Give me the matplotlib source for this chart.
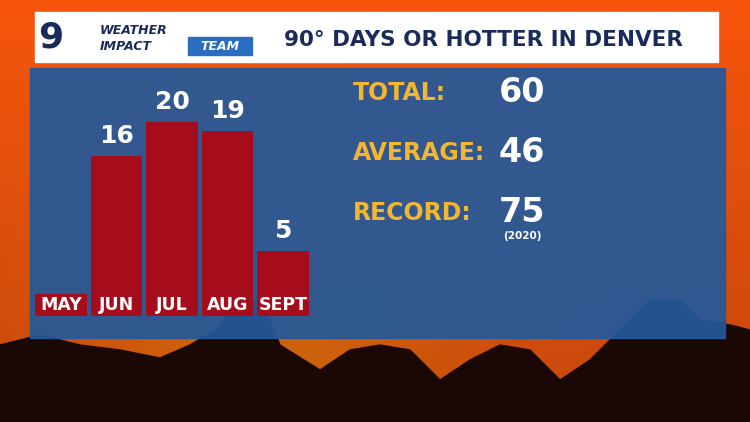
import matplotlib.pyplot as plt
import numpy as np
from matplotlib.patches import Rectangle, Polygon

months = ['MAY', 'JUN', 'JUL', 'AUG', 'SEPT']
days = [0, 16, 20, 19, 5]
stat_names = ['TOTAL:', 'AVERAGE:', 'RECORD:']
stat_values = ['60', '46', '75']

W, H = 750, 422
fig = plt.figure(figsize=(7.5, 4.22), dpi=100)
bg = fig.add_axes([0, 0, 1, 1])
bg.set_xlim(0, W)
bg.set_ylim(H, 0)
bg.axis('off')

# sunset gradient
yy = np.linspace(0, 1, 200)[:, None]
xx = np.linspace(0, 1, 300)[None, :]
r = np.clip(0.97 - 0.2 * yy + 0 * xx, 0, 1)
g = np.clip(0.33 - 0.05 * yy + 0.12 * np.exp(-((xx - 0.35) / 0.25) ** 2) * yy, 0, 1)
b = np.clip(0.05 + 0 * xx + 0 * yy, 0, 1)
bg.imshow(np.dstack([r, g, b]), extent=[0, W, H, 0], aspect='auto', zorder=0)

# mountain silhouette
sil = [(0, 422), (0, 345), (40, 335), (80, 345), (120, 350), (160, 358), (190, 345),
       (215, 330), (240, 300), (262, 300), (280, 345), (320, 370), (350, 350),
       (380, 345), (410, 350), (440, 380), (470, 360), (500, 345), (530, 350),
       (560, 380), (590, 360), (620, 330), (650, 300), (680, 300), (700, 320),
       (730, 325), (750, 330), (750, 422)]
bg.add_patch(Polygon(sil, closed=True, color='#1a0804', zorder=1))

# title bar
bg.add_patch(Rectangle((35, 12), 683, 50, color='white', zorder=2))
bg.text(38, 38, '9', fontsize=26, fontweight='bold', color='#1a2a5a', va='center', zorder=3)
bg.text(100, 30, 'WEATHER', fontsize=9, fontweight='bold', style='italic', color='#1a2a5a', va='center', zorder=3)
bg.text(100, 46, 'IMPACT', fontsize=9, fontweight='bold', style='italic', color='#1a2a5a', va='center', zorder=3)
bg.add_patch(Rectangle((188, 37), 64, 18, color='#2a6cc0', zorder=3))
bg.text(220, 46, 'TEAM', fontsize=9, fontweight='bold', style='italic', color='white', ha='center', va='center', zorder=4)
bg.text(483, 40, '90° DAYS OR HOTTER IN DENVER', fontsize=15.5, fontweight='bold',
        color='#1a2a5a', ha='center', va='center', zorder=3)

# blue panel
bg.add_patch(Rectangle((30, 68), 695, 270, color='#24599a', alpha=0.93, zorder=2))

# stats
for i, (n, v) in enumerate(zip(stat_names, stat_values)):
    y = 93 + i * 60
    bg.text(353, y, n, fontsize=17, fontweight='bold', color='#f2b632', va='center', zorder=3)
    bg.text(522, y, v, fontsize=24, fontweight='bold', color='white', ha='center', va='center', zorder=3)
bg.text(522, 236, '(2020)', fontsize=7.5, fontweight='bold', color='white', ha='center', va='center', zorder=3)

# bars (axes in pixel-like units above the baseline)
ax = fig.add_axes([33 / W, 1 - 316 / H, 278 / W, 250 / H])
ax.set_zorder(5)
ax.patch.set_alpha(0)
label_base = 22
x = np.arange(len(months))
heights = [d * 8.6 + label_base for d in days]
ax.bar(x, heights, width=0.93, color='#a50d1c')
for xi, d, h, m in zip(x, days, heights, months):
    ax.text(xi, 10.5, m, fontsize=12.5, fontweight='bold', color='white', ha='center', va='center')
    if d > 0:
        ax.text(xi, h + 8, str(d), fontsize=18, fontweight='bold', color='white', ha='center', va='bottom')
ax.set_xlim(-0.5, len(months) - 0.5)
ax.set_ylim(0, 250)
ax.axis('off')

fig.savefig('out.png', dpi=100)
